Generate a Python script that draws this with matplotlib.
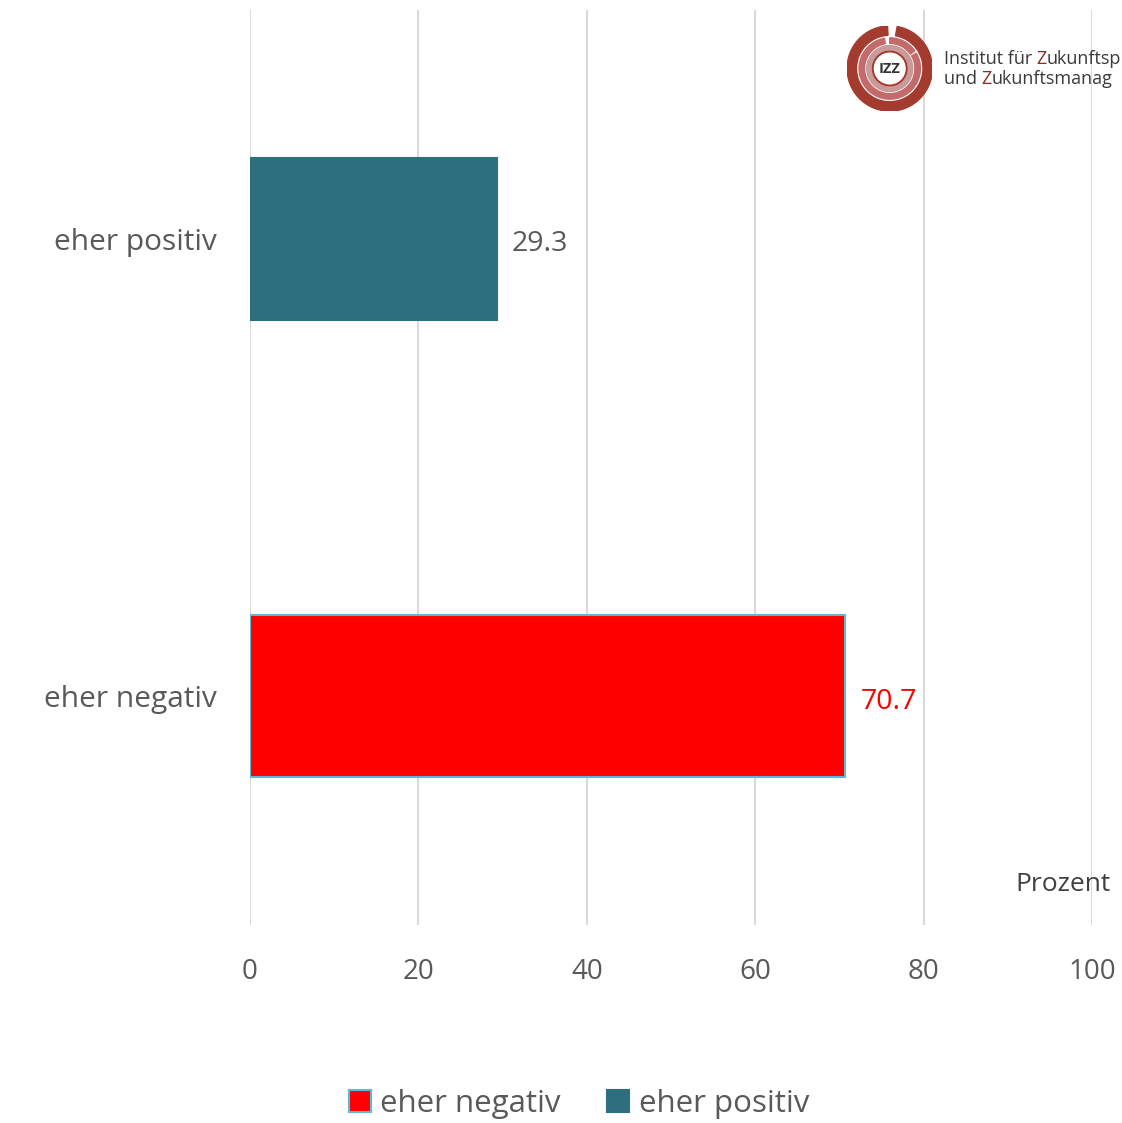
import matplotlib.pyplot as plt
from matplotlib.patches import Wedge, Circle, Patch

plt.rcParams['font.family'] = ['Open Sans', 'DejaVu Sans']

# data
categories = ["eher negativ", "eher positiv"]
values = [70.7, 29.3]
bar_colors = ["#ff0000", "#2e6f7f"]
edge_colors = ["#5bb8d6", "#2e6f7f"]
label_colors = ["#ff0000", "#595959"]
xticks = [0, 20, 40, 60, 80, 100]

fig = plt.figure(figsize=(11.22, 11.23), dpi=100)
ax = fig.add_axes([0.2228, 0.1763, 0.7505, 0.8148])

ypos = list(range(len(categories)))
ax.barh(ypos, values, height=0.355, color=bar_colors, edgecolor=edge_colors,
        linewidth=1.5, zorder=3)

for y, v, c in zip(ypos, values, label_colors):
    ax.annotate(f"{v}", (v, y), xytext=(11, -4), textcoords="offset points",
                va="center", ha="left", fontsize=20.5, color=c)

ax.set_xlim(0, 100)
ax.set_ylim(-0.5, 1.5)
ax.set_xticks(xticks)
ax.set_xticklabels([str(t) for t in xticks], fontsize=20, color="#595959")
ax.set_yticks(ypos)
ax.set_yticklabels(categories, fontsize=21.5, color="#595959")
ax.tick_params(axis="x", length=0, pad=24)
ax.tick_params(axis="y", length=0, pad=24)
ax.grid(axis="x", color="#d9d9d9", linewidth=1.5, zorder=0)
for s in ax.spines.values():
    s.set_visible(False)

ax.text(1.022, 0.044, "Prozent", transform=ax.transAxes, ha="right", va="center",
        fontsize=19, color="#404040")

# legend
handles = [Patch(facecolor=bar_colors[0], edgecolor=edge_colors[0], linewidth=1.5),
           Patch(facecolor=bar_colors[1], edgecolor=edge_colors[1], linewidth=1.5)]
fig.legend(handles, categories, loc="center", bbox_to_anchor=(0.516, 0.017),
           ncol=2, frameon=False, fontsize=22.5, handlelength=0.7, handleheight=0.7,
           handletextpad=0.3, columnspacing=1.5, labelcolor="#595959")

# logo
lax = fig.add_axes([0.755, 0.901, 0.076, 0.076])
lax.set_xlim(-1, 1)
lax.set_ylim(-1, 1)
lax.set_aspect("equal")
lax.axis("off")
lax.add_patch(Wedge((0, 0), 1.0, 93, 440, width=0.22, color="#a33b2e"))
lax.add_patch(Wedge((0, 0), 0.72, 100, 390, width=0.13, color="#c46a6a"))
lax.add_patch(Wedge((0, 0), 0.72, 35, 90, width=0.13, color="#c46a6a"))
lax.add_patch(Wedge((0, 0), 0.54, 0, 360, width=0.1, color="#c99a9a"))
lax.add_patch(Circle((0, 0), 0.4, facecolor="white", edgecolor="#a33b2e", linewidth=1.5))
lax.text(0, 0, "IZZ", ha="center", va="center", fontsize=10.5, fontweight="bold",
         color="#333333")

# logo caption, "Z" in red, chained piece by piece
logo_gray = "#3a3a3a"
logo_red = "#8b2a22"
rows = [(0.943, ["Institut für ", "Z", "ukunftsp"]),
        (0.925, ["und ", "Z", "ukunftsmanag"])]
for yy, parts in rows:
    prev = fig.text(0.841, yy, parts[0], fontsize=13, color=logo_gray,
                    va="baseline", ha="left")
    for p in parts[1:]:
        col = logo_red if p == "Z" else logo_gray
        prev = fig.add_artist(plt.Annotation(p, xy=(1, 0), xycoords=prev,
                                             va="bottom", ha="left",
                                             fontsize=13, color=col))

fig.savefig("out.png", dpi=100)
